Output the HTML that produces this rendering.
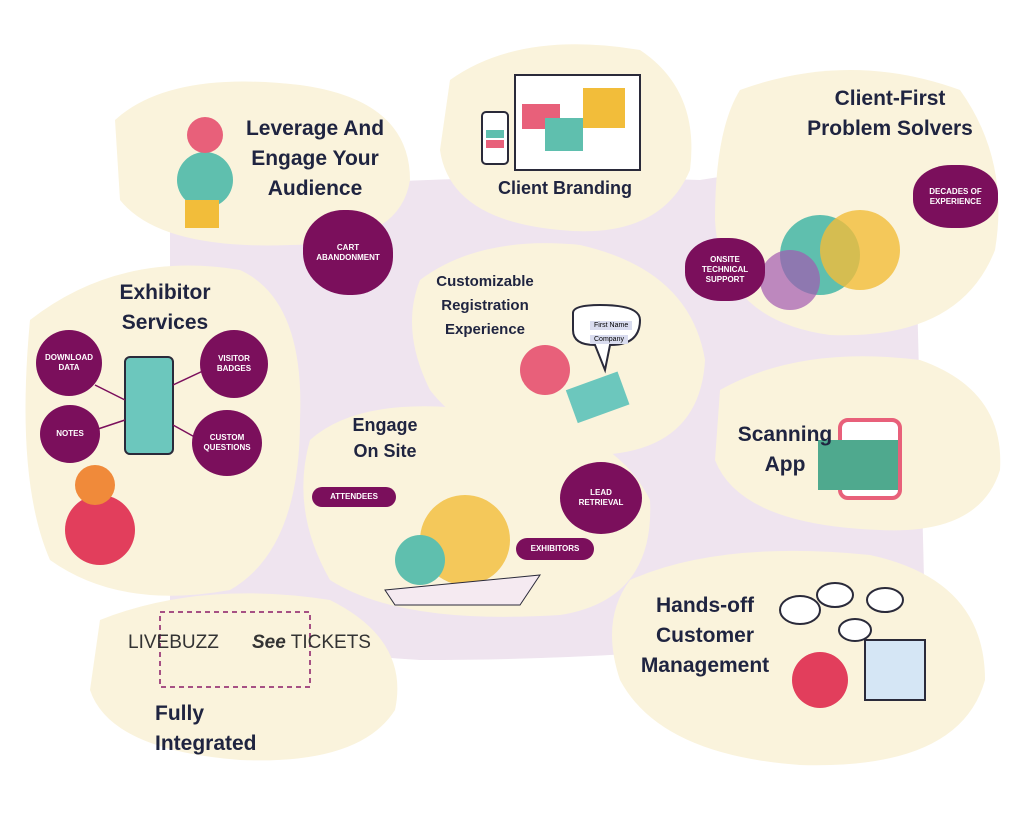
<!DOCTYPE html>
<html><head><meta charset="utf-8"><style>
body{margin:0;width:1024px;height:819px;background:#fff;overflow:hidden;position:relative;font-family:"Liberation Sans",sans-serif}
svg{position:absolute;left:0;top:0}
.t{position:absolute;color:#1f2440;font-weight:bold;font-size:21px;text-align:center;line-height:30px}
.s{position:absolute;color:#1f2440;font-weight:bold;font-size:15px;text-align:center;line-height:24px}
.p{position:absolute;background:#7b0f5c;color:#fff;font-size:8px;font-weight:bold;text-align:center;display:flex;align-items:center;justify-content:center;line-height:10px}
</style></head><body>
<svg width="1024" height="819">
<path d="M170 200 Q420 170 700 180 Q880 150 915 210 L925 620 Q700 660 420 660 Q250 650 170 600 Z" fill="#efe4ef"/>
<g fill="#faf3dc">
<path d="M115 120 Q170 70 300 85 Q410 100 410 180 Q400 245 290 245 Q160 250 120 200 Z"/>
<path d="M450 80 Q520 30 640 50 Q700 90 690 170 Q660 240 560 230 Q450 220 440 150 Z"/>
<path d="M740 90 Q850 50 960 90 Q1010 160 995 250 Q960 340 830 335 Q720 320 715 220 Q715 130 740 90 Z"/>
<path d="M30 320 Q120 250 240 270 Q305 300 300 420 Q300 550 230 590 Q120 610 50 560 Q15 480 30 320 Z"/>
<path d="M420 280 Q480 235 580 245 Q690 270 705 360 Q700 450 600 455 Q480 455 430 390 Q400 330 420 280 Z"/>
<path d="M310 440 Q360 395 480 410 Q610 420 650 500 Q655 600 560 615 Q400 625 330 580 Q290 510 310 440 Z"/>
<path d="M720 390 Q800 345 920 360 Q1005 390 1000 470 Q980 535 880 530 Q740 525 715 460 Z"/>
<path d="M630 580 Q720 540 870 555 Q985 580 985 680 Q960 770 800 765 Q660 755 620 680 Q600 620 630 580 Z"/>
<path d="M100 620 Q200 580 330 600 Q410 640 395 710 Q360 765 240 760 Q110 750 90 690 Z"/>
</g>
<rect x="515" y="75" width="125" height="95" fill="#fff" stroke="#2a2a3a" stroke-width="2"/>
<rect x="522" y="104" width="38" height="25" fill="#e8607a"/>
<rect x="545" y="118" width="38" height="33" fill="#5fbfae"/>
<rect x="583" y="88" width="42" height="40" fill="#f2bd3a"/>
<rect x="482" y="112" width="26" height="52" rx="4" fill="#fff" stroke="#2a2a3a" stroke-width="2"/>
<rect x="486" y="130" width="18" height="8" fill="#5fbfae"/><rect x="486" y="140" width="18" height="8" fill="#e8607a"/>
<rect x="125" y="357" width="48" height="97" rx="5" fill="#6cc7bd" stroke="#2a2a3a" stroke-width="2"/>
<rect x="840" y="420" width="60" height="78" rx="8" fill="#fff" stroke="#e8607a" stroke-width="4"/>
<rect x="818" y="440" width="80" height="50" fill="#4fa98e"/>
<circle cx="205" cy="180" r="28" fill="#5fbfae"/><circle cx="205" cy="135" r="18" fill="#e8607a"/>
<rect x="185" y="200" width="34" height="28" fill="#f2bd3a"/>
<circle cx="100" cy="530" r="35" fill="#e23e5c"/><circle cx="95" cy="485" r="20" fill="#f08a3a"/>
<circle cx="820" cy="255" r="40" fill="#5fbfae"/><circle cx="860" cy="250" r="40" fill="#f2bd3a" opacity=".8"/><circle cx="790" cy="280" r="30" fill="#a35ab0" opacity=".7"/>
<circle cx="465" cy="540" r="45" fill="#f2bd3a" opacity=".8"/><circle cx="420" cy="560" r="25" fill="#5fbfae"/><path d="M385 590 L540 575 L520 605 L395 605 Z" fill="#f5eaf1" stroke="#2a2a3a"/>
<circle cx="545" cy="370" r="25" fill="#e8607a"/><rect x="570" y="380" width="55" height="35" fill="#6cc7bd" transform="rotate(-20 597 397)"/>
<path d="M573 313 Q573 305 600 305 Q640 305 640 320 Q640 345 610 345 L605 370 L595 345 Q573 345 573 330Z" fill="#fff" stroke="#2a2a3a" stroke-width="2"/>
<circle cx="820" cy="680" r="28" fill="#e23e5c"/><rect x="865" y="640" width="60" height="60" fill="#d5e6f5" stroke="#2a2a3a" stroke-width="2"/>
<g fill="#fff" stroke="#2a2a3a" stroke-width="2"><ellipse cx="800" cy="610" rx="20" ry="14"/><ellipse cx="835" cy="595" rx="18" ry="12"/><ellipse cx="885" cy="600" rx="18" ry="12"/><ellipse cx="855" cy="630" rx="16" ry="11"/></g>
<rect x="160" y="612" width="150" height="75" fill="none" stroke="#8a1b66" stroke-width="1.5" stroke-dasharray="5 4"/>
<g stroke="#7b0f5c" stroke-width="1.5"><line x1="95" y1="385" x2="125" y2="400"/><line x1="95" y1="430" x2="125" y2="420"/><line x1="173" y1="385" x2="205" y2="370"/><line x1="173" y1="425" x2="200" y2="440"/></g>
</svg>
<div class="t" style="left:230px;top:114px;width:170px">Leverage And<br>Engage Your<br>Audience</div>
<div class="t" style="left:480px;top:173px;width:170px;font-size:18px">Client Branding</div>
<div class="t" style="left:790px;top:84px;width:200px">Client-First<br>Problem Solvers</div>
<div class="t" style="left:90px;top:278px;width:150px">Exhibitor<br>Services</div>
<div class="s" style="left:410px;top:270px;width:150px">Customizable<br>Registration<br>Experience</div>
<div class="t" style="left:320px;top:412px;width:130px;font-size:18px;line-height:26px">Engage<br>On Site</div>
<div class="t" style="left:710px;top:420px;width:150px">Scanning<br>App</div>
<div class="t" style="left:620px;top:591px;width:170px">Hands-off<br>Customer<br>Management</div>
<div class="t" style="left:155px;top:699px;width:120px;text-align:left">Fully<br>Integrated</div>
<div style="position:absolute;left:128px;top:632px;font-size:19px;color:#333">LIVEBUZZ</div>
<div style="position:absolute;left:252px;top:632px;font-size:19px;color:#333"><b><i>See</i></b> TICKETS</div>
<div style="position:absolute;left:590px;top:321px;font-size:7px;background:#d9dcef;padding:1px 4px">First Name</div>
<div style="position:absolute;left:590px;top:335px;font-size:7px;background:#d9dcef;padding:1px 4px">Company</div>
<div class="p" style="left:303px;top:210px;width:90px;height:85px;border-radius:45% 50% 45% 50%">CART<br>ABANDONMENT</div>
<div class="p" style="left:913px;top:165px;width:85px;height:63px;border-radius:45%">DECADES OF<br>EXPERIENCE</div>
<div class="p" style="left:685px;top:238px;width:80px;height:63px;border-radius:45%">ONSITE<br>TECHNICAL<br>SUPPORT</div>
<div class="p" style="left:36px;top:330px;width:66px;height:66px;border-radius:50%">DOWNLOAD<br>DATA</div>
<div class="p" style="left:200px;top:330px;width:68px;height:68px;border-radius:50%">VISITOR<br>BADGES</div>
<div class="p" style="left:40px;top:405px;width:60px;height:58px;border-radius:50%">NOTES</div>
<div class="p" style="left:192px;top:410px;width:70px;height:66px;border-radius:50%">CUSTOM<br>QUESTIONS</div>
<div class="p" style="left:312px;top:487px;width:84px;height:20px;border-radius:10px">ATTENDEES</div>
<div class="p" style="left:560px;top:462px;width:82px;height:72px;border-radius:50%">LEAD<br>RETRIEVAL</div>
<div class="p" style="left:516px;top:538px;width:78px;height:22px;border-radius:11px">EXHIBITORS</div>
</body></html>
